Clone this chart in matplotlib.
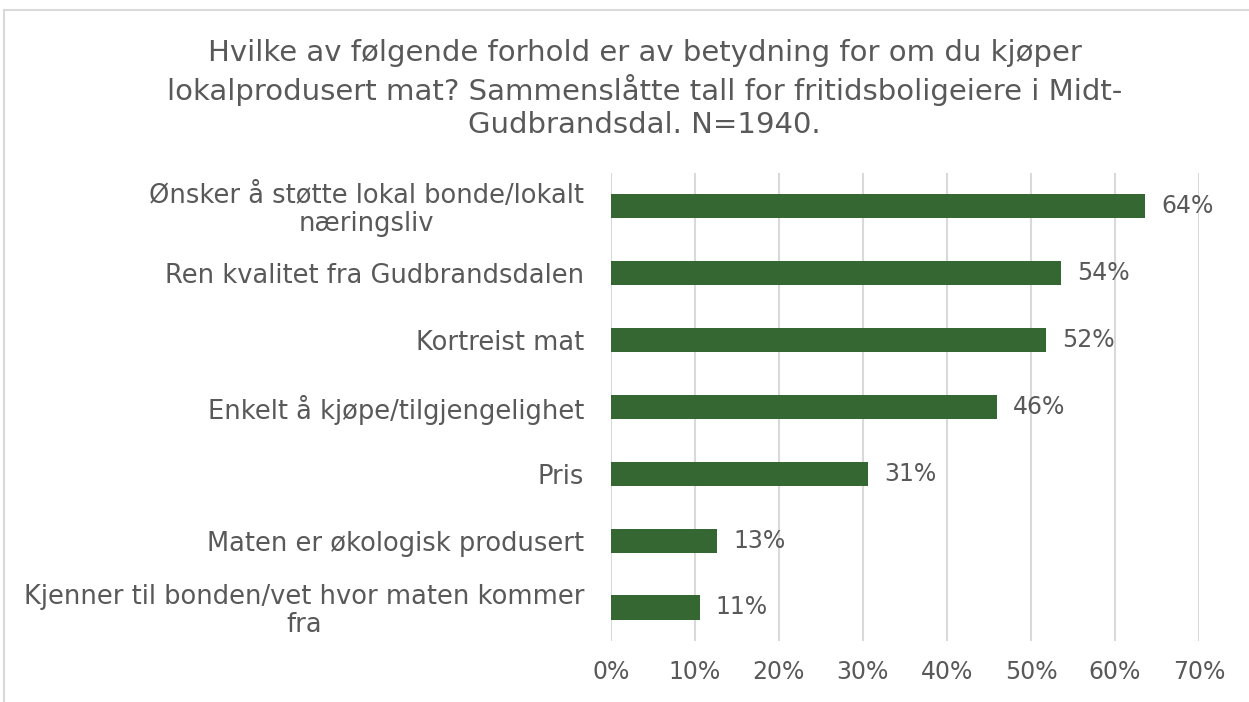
import matplotlib
matplotlib.use('Agg')
import matplotlib.pyplot as plt
from matplotlib.patches import Rectangle
from matplotlib.ticker import FuncFormatter

plt.rcParams['font.family'] = ['DejaVu Sans']

TEXT_COLOR = '#595959'
BAR_COLOR = '#356733'
GRID_COLOR = '#d9d9d9'

title = ('Hvilke av følgende forhold er av betydning for om du kjøper\n'
         'lokalprodusert mat? Sammenslåtte tall for fritidsboligeiere i Midt-\n'
         'Gudbrandsdal. N=1940.')

categories = [
    'Ønsker å støtte lokal bonde/lokalt\nnæringsliv',
    'Ren kvalitet fra Gudbrandsdalen',
    'Kortreist mat',
    'Enkelt å kjøpe/tilgjengelighet',
    'Pris',
    'Maten er økologisk produsert',
    'Kjenner til bonden/vet hvor maten kommer\nfra',
]
values = [63.6, 53.6, 51.8, 45.9, 30.6, 12.7, 10.6]
x_ticks = [0, 10, 20, 30, 40, 50, 60, 70]

fig = plt.figure(figsize=(12.49, 7.02), dpi=100)
ax = fig.add_axes([0.489, 0.087, 0.471, 0.667])

# chart area border (cut off at right and bottom like the reference)
fig.patches.append(Rectangle((4 / 1249, -0.1), 1.2, 1 - 10 / 702 + 0.1,
                             transform=fig.transFigure, fill=False,
                             edgecolor=GRID_COLOR, linewidth=1.5))

y = list(range(len(categories)))
ax.barh(y, values, height=0.36, color=BAR_COLOR, zorder=3)

for yi, v in zip(y, values):
    ax.text(v + 1.9, yi, '{:.0f}%'.format(v), va='center', ha='left',
            fontsize=17, color=TEXT_COLOR)

ax.set_xlim(0, 70)
ax.set_ylim(len(categories) - 0.5, -0.5)
ax.set_xticks(x_ticks)
ax.xaxis.set_major_formatter(FuncFormatter(lambda v, p: '{:.0f}%'.format(v)))
ax.set_yticks(y)
ax.set_yticklabels(categories)
for t in ax.get_yticklabels():
    t.set_multialignment('center')
    t.set_linespacing(1.1)

ax.grid(axis='x', color=GRID_COLOR, linewidth=1.5, zorder=0)
for s in ax.spines.values():
    s.set_visible(False)
ax.tick_params(axis='x', length=0, labelsize=17, labelcolor=TEXT_COLOR, pad=14)
ax.tick_params(axis='y', length=0, labelsize=18.5, labelcolor=TEXT_COLOR, pad=19)

fig.text(0.516, 1 - 89 / 702, title, ha='center', va='center', fontsize=21,
         color=TEXT_COLOR, linespacing=1.27)

fig.savefig('out.png', dpi=100)
